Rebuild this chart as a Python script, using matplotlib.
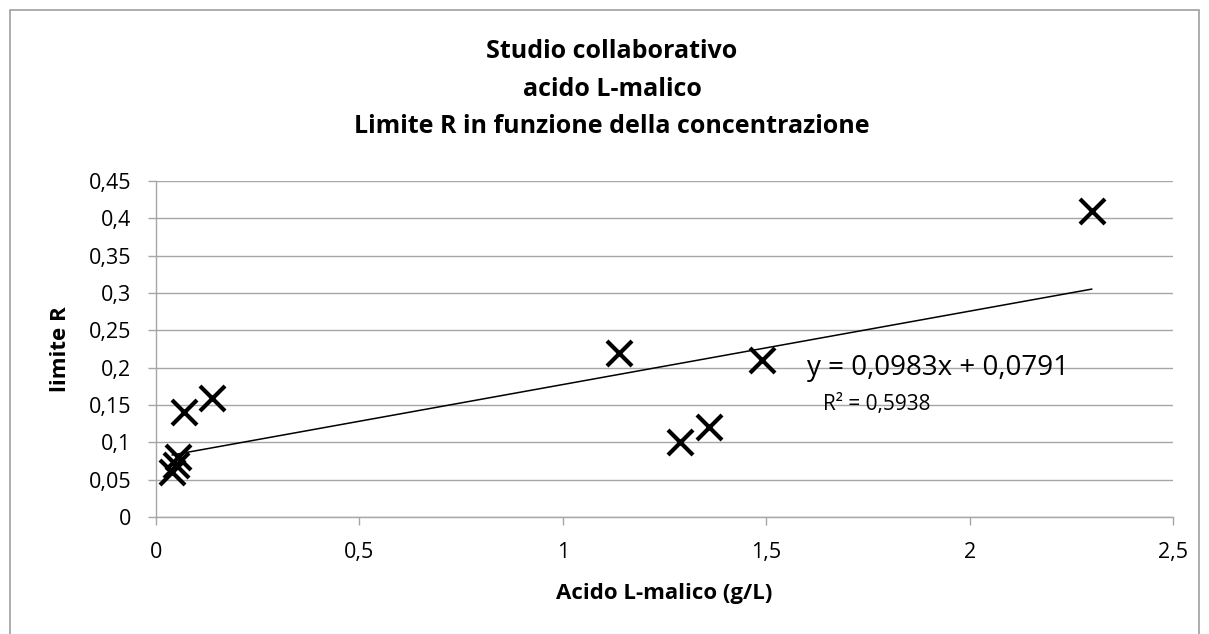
import matplotlib
matplotlib.use("Agg")
import matplotlib.pyplot as plt
from matplotlib.patches import Rectangle
from matplotlib.ticker import FixedLocator, FuncFormatter
import numpy as np

conc = [0.04, 0.05, 0.055, 0.07, 0.137, 1.138, 1.288, 1.36, 1.49, 2.30]
limite_r = [0.06, 0.07, 0.08, 0.14, 0.16, 0.22, 0.10, 0.12, 0.21, 0.41]
slope = 0.0983
intercept = 0.0791
eq_text = "y = 0,0983x + 0,0791"
r2_text = "R² = 0,5938"
title = "Studio collaborativo\nacido L-malico\nLimite R in funzione della concentrazione"
xlabel = "Acido L-malico (g/L)"
ylabel = "limite R"
xticks = [0, 0.5, 1, 1.5, 2, 2.5]
yticks = [0, 0.05, 0.1, 0.15, 0.2, 0.25, 0.3, 0.35, 0.4, 0.45]

plt.rcParams['font.family'] = ['Open Sans', 'DejaVu Sans']

W, H = 1209, 634
GRID = '#a6a6a6'
fig = plt.figure(figsize=(W / 100, H / 100), dpi=100)
fig.patches.append(Rectangle((10 / W, -10 / H), 1189 / W, 634 / H, transform=fig.transFigure,
                             fill=False, edgecolor='#a0a0a0', linewidth=1.2))

L, R, T, B = 156, 1173, 181, 517
ax = fig.add_axes([L / W, 1 - B / H, (R - L) / W, (B - T) / H])
ax.set_xlim(0, 2.5)
ax.set_ylim(0, 0.45)
ax.yaxis.set_major_locator(FixedLocator(yticks))
ax.xaxis.set_major_locator(FixedLocator(xticks))
fmt = FuncFormatter(lambda v, p: ('%g' % v).replace('.', ','))
ax.xaxis.set_major_formatter(fmt)
ax.yaxis.set_major_formatter(fmt)
ax.grid(axis='y', color=GRID, linewidth=1.0)
ax.set_axisbelow(True)
for s in ['top', 'right']:
    ax.spines[s].set_visible(False)
for s in ['left', 'bottom']:
    ax.spines[s].set_color(GRID)
    ax.spines[s].set_linewidth(1.0)
ax.tick_params(axis='both', colors=GRID, labelcolor='black', labelsize=15.5, length=6, width=1.0)
ax.tick_params(axis='y', pad=12)
ax.tick_params(axis='x', pad=12)

xs = np.array([min(conc), max(conc)])
ax.plot(xs, slope * xs + intercept, color='black', linewidth=1.1, zorder=2)
ax.plot(conc, limite_r, linestyle='none', marker='x', color='black', markersize=18, mew=3.0, zorder=3,
        clip_on=False)

ax.text(1.60, 0.200, eq_text, fontsize=20, ha='left', va='center')
ax.text(1.64, 0.151, r2_text, fontsize=15, ha='left', va='center')

fig.text(612 / W, 1 - 89 / H, title, ha='center', va='center', fontsize=18, fontweight='bold',
         linespacing=1.68)
fig.text((L + R) / 2 / W, 1 - 593 / H, xlabel, ha='center', va='center', fontsize=16, fontweight='bold')
fig.text(60 / W, 1 - (T + B) / 2 / H, ylabel, ha='center', va='center', fontsize=16, fontweight='bold',
         rotation=90)

fig.savefig("out.png", dpi=100)
